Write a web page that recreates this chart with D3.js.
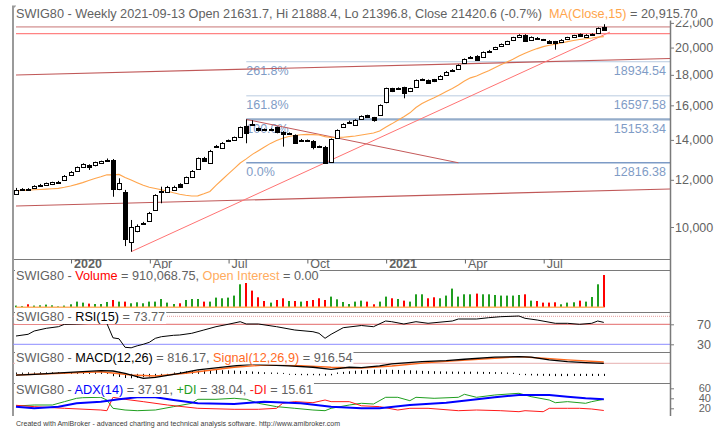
<!DOCTYPE html>
<html>
<head>
<meta charset="utf-8">
<script src="https://cdn.jsdelivr.net/npm/d3@7"></script>
<style>
  body { margin: 0; background: #fff; }
  svg { display: block; }
  text { font-family: "Liberation Sans", Arial, sans-serif; }
  .title { font-size: 12.7px; white-space: pre; }
</style>
</head>
<body>
<div id="wrapper"></div>
<script>

// 1. Access data

const firstWeek = "2019-11-04"
const lastWeek = "2021-09-13"

const opens = [11360, 11550, 11580, 11610, 11760, 11750, 11790, 11890, 11990, 12240,
  12400, 12620, 12710, 12670, 12790, 12920, 12930, 11570, 11430, 9450,
  9860, 10120, 10235, 10680, 11440, 11480, 11570, 11810, 11840, 12145,
  12500, 13075, 12820, 13620, 13605, 13940, 14000, 14140, 14770, 14900,
  14640, 14600, 14580, 14700, 14450, 14340, 14270, 13980, 13990, 13960,
  13650, 13640, 12870, 14090, 14700, 15000, 14830, 15180, 15400, 15280,
  15415, 16165, 17090, 17070, 17155, 16870, 17195, 17680, 17645, 17690,
  17715, 17990, 18320, 18410, 18825, 19290, 19385, 19290, 19740, 19840,
  20100, 20280, 20540, 20890, 21020, 20570, 20780, 20640, 20540, 20490,
  20440, 20620, 20815, 21080, 20895, 21060, 21160, 21631.7]

const highs = [11630, 11620, 11620, 11750, 11810, 11870, 11910, 11950, 12220, 12410,
  12630, 12790, 12740, 12870, 12920, 13030, 13005, 12070, 11540, 10275,
  10100, 10200, 10600, 11350, 11685, 11720, 11730, 11840, 12150, 12460,
  13080, 13110, 13470, 13730, 13880, 14020, 14180, 14740, 15153.34, 15100,
  14680, 14630, 14640, 14740, 14480, 14410, 14300, 14050, 14020, 13990,
  13700, 13680, 14080, 14580, 14930, 15080, 15160, 15390, 15430, 15300,
  16060, 17130, 17120, 17150, 17190, 17120, 17680, 17750, 17680, 17720,
  17980, 18260, 18400, 18740, 19180, 19360, 19420, 19700, 19820, 20060,
  20320, 20530, 20850, 21060, 21060, 20880, 20830, 20680, 20580, 20520,
  20660, 20850, 21010, 21120, 21060, 21130, 21620, 21888.4]

const lows = [11320, 11500, 11520, 11580, 11720, 11720, 11760, 11860, 11960, 12210,
  12380, 12590, 12465, 12640, 12760, 12890, 11240, 11530, 9290, 9090,
  9800, 10080, 10200, 10650, 10960, 11450, 11540, 11660, 11810, 12120,
  12470, 12870, 12790, 13570, 13580, 13900, 13970, 14110, 13820, 14820,
  14470, 14540, 14530, 14360, 13640, 14300, 13780, 13940, 13920, 13500,
  13580, 12816.38, 12840, 14060, 14670, 14950, 14800, 15150, 15250, 15020,
  15390, 16130, 16840, 17030, 16440, 16840, 17170, 17640, 17390, 17500,
  17690, 17960, 18290, 18380, 18800, 19250, 19070, 19260, 19700, 19810,
  20070, 20250, 20510, 20860, 20500, 20540, 20700, 20580, 20320, 19840,
  20400, 20590, 20780, 20860, 20860, 21020, 21130, 21396.8]

const closes = [11540, 11570, 11560, 11720, 11780, 11840, 11885, 11915, 12190, 12380,
  12595, 12755, 12625, 12840, 12890, 12960, 11560, 11840, 9550, 10010,
  10040, 10150, 10570, 11315, 11470, 11690, 11690, 11690, 12115, 12430,
  13040, 12905, 13430, 13650, 13850, 13970, 14140, 14700, 14400, 14870,
  14510, 14580, 14590, 14400, 14365, 14360, 13820, 14000, 13960, 13640,
  13630, 12840, 14040, 14550, 14890, 15030, 15120, 15355, 15280, 15120,
  16020, 17090, 16870, 17100, 16760, 17090, 17645, 17700, 17425, 17535,
  17945, 18220, 18350, 18700, 19140, 19310, 19105, 19660, 19770, 20025,
  20280, 20490, 20815, 21020, 20540, 20840, 20760, 20620, 20360, 20360,
  20620, 20815, 20975, 20895, 21020, 21090, 21571, 21420.6]

const volumes = [48000, 37000, 85000, 48000, 56000, 76000, 56000, 28000, 48000, 85000,
  160000, 132000, 104000, 93000, 93000, 150000, 206000, 160000, 160000, 113000,
  141000, 113000, 160000, 160000, 234000, 132000, 93000, 113000, 206000, 234000,
  234000, 160000, 160000, 273000, 254000, 273000, 330000, 648000, 685000, 470000,
  282000, 178000, 132000, 206000, 254000, 178000, 178000, 160000, 178000, 206000,
  254000, 206000, 301000, 225000, 150000, 93000, 160000, 188000, 160000, 85000,
  160000, 301000, 254000, 234000, 188000, 160000, 366000, 366000, 254000, 282000,
  254000, 330000, 527000, 301000, 366000, 366000, 386000, 366000, 366000, 347000,
  330000, 330000, 330000, 347000, 366000, 188000, 178000, 132000, 132000, 141000,
  85000, 132000, 141000, 188000, 160000, 290000, 648000, 910068.75]

// MA(Close,15): the first 14 weeks depend on history left of the chart, so they are read
const maPeriod = 15
const maLead = [11505, 11515, 11530, 11545, 11560, 11575, 11595, 11610, 11660, 11720,
  11790, 11870, 11970, 12060]

const rsiWeeks = [0, 2, 3, 5, 7, 8, 10, 12, 15, 16, 17, 18, 19, 20, 21, 22, 23, 24,
  26, 27, 29, 31, 33, 35, 37, 38, 40, 43, 46, 49, 50, 51, 52, 54, 57, 59,
  61, 62, 64, 66, 68, 72, 73, 76, 78, 80, 83, 84, 86, 89, 91, 93, 95, 96, 97]
const rsiValues = [46.6, 50, 56.6, 62, 65.2, 70, 70.6, 71.6, 71.6, 43, 41, 24, 23, 27, 30, 34, 42, 45.2,
  48, 48.6, 52, 58.6, 65.2, 70, 75.2, 70.6, 70.6, 65.2, 58.6, 55.2, 52, 42, 50, 63.2, 67.6, 65.2,
  76.6, 75.2, 70.6, 75.2, 72, 76.6, 80.6, 80.6, 83.2, 85.2, 86.6, 82, 78.6, 72, 72, 70, 72, 76.6, 73.77]

const macdWeeks = [0, 3, 8, 14, 16, 18, 21, 23, 27, 30, 36, 39, 41, 45, 49, 52, 55, 57, 60, 62,
  67, 71, 74, 79, 83, 85, 88, 91, 94, 97]
const macdValues = [-93, -34, 90, 245, 222, 43, -345, -267, 43, 300, 610, 743, 688, 610, 510, 354, 510, 480, 610, 766,
  944, 1022, 1130, 1286, 1333, 1286, 1077, 944, 867, 816.17]

const signalWeeks = [0, 14, 19, 23, 28, 36, 41, 47, 52, 57, 62, 68, 73, 79, 83, 87, 91, 97]
const signalValues = [-93, 167, -88, -166, 43, 510, 688, 633, 510, 455, 610, 866, 1022, 1209, 1333, 1209, 1077, 916.54]

const histValues = [40, 30, 50, 40, 60, 50, 60, 70, 60, 80, 70, 60, 80, 70, 60, 50,
  -120, -180, -260, -280, -250, -200, -150, -120, -90, -50,
  40, 90, 130, 160, 190, 210, 230, 240, 220, 210, 190, 170, 160, 120, 90,
  60, 40, 30, 10, -10, -30, -40, -50, -40, -60, -80, -50,
  40, 90, 140, 180, 210, 240, 260, 270, 260, 250, 240, 220, 210, 190, 170, 150, 140, 130,
  120, 110, 110, 100, 110, 100, 90, 80, 70, 60, 40, 20,
  -20, -40, -60, -80, -90, -100, -110, -110, -110, -100, -100, -100, -100, -100, -100.37]

const adxWeeks = [0, 3, 7, 10, 14, 17, 20, 23, 26, 30, 36, 41, 47, 52, 57, 60, 65, 71, 75, 79, 83, 88, 91, 94, 97]
const adxValues = [23.3, 20, 23.3, 30, 33.3, 38, 42, 42, 36.6, 30, 28.6, 33.3, 30, 23.3, 20, 20, 26.6, 31.2,
  36.6, 42, 46.6, 46.6, 43.3, 40, 37.91]

const pdiWeeks = [0, 3, 6, 8, 10, 11, 14, 15, 16, 18, 20, 23, 26, 29, 30, 33, 36, 38, 40, 43, 46, 49,
  51, 52, 55, 57, 59, 61, 63, 65, 66, 69, 73, 74, 76, 79, 83, 85, 88, 89, 91, 94, 95, 97]
const pdiValues = [24.6, 26.6, 26.6, 33.3, 40, 41.2, 42, 36.6, 20, 16.6, 15.2, 16.6, 23.3, 30, 38, 38, 40, 38,
  30, 23.3, 20, 16.6, 15.2, 20, 26.6, 30, 28.6, 42, 42, 35.2, 42, 40, 42, 48, 42, 46.6, 50, 43.3,
  36.6, 31.2, 33.3, 30, 33.3, 38.04]

const mdiWeeks = [0, 3, 8, 14, 15, 16, 18, 21, 25, 30, 36, 40, 43, 44, 46, 49, 51, 52, 55, 57,
  60, 63, 65, 68, 73, 76, 80, 83, 84, 87, 88, 91, 93, 95, 97]
const mdiValues = [26, 23.3, 20, 16.6, 15.2, 42, 38, 33.3, 26.6, 20, 18, 18, 20, 30, 33.3, 31.2, 36.6, 33.3, 33.3, 25,
  23.3, 16.6, 20, 20, 15.2, 16.6, 15.2, 13.2, 15.2, 13.2, 20, 20, 20, 18.6, 15.61]

const priceTicks = [22000, 20000, 18000, 16000, 14000, 12000, 10000]
const rsiTicks = [70, 30]
const adxTicks = [60, 40, 20]
const dateTicks = ["2020-01-06", "2020-04-06", "2020-07-06", "2020-10-05", "2021-01-04", "2021-04-05", "2021-07-05"]
const dateTickLabels = ["2020", "Apr", "Jul", "Oct", "2021", "Apr", "Jul"]

// Fibonacci retracement drawn from the July 2020 high
const fibStart = "2020-07-27"
const fibLow = 12816.38
const fibHigh = 15153.34
const fibRatios = [2.618, 1.618, 1, 0]
const fibLabels = ["261.8%", "161.8%", "100.0%", "0.0%"]

// hand drawn studies: horizontal levels and trend lines (date, price anchors)
const levelLines = [21660, 21100]
const trendLines = [
  { from: ["2019-11-04", 17990], to: ["2021-09-13", 19050], extendTo: "edge" },
  { from: ["2019-11-04", 10845], to: ["2021-09-13", 11505], extendTo: "edge" },
  { from: ["2020-03-16", 9090], to: ["2020-10-26", 12816.38], extendTo: "2021-09-20" },
  { from: ["2020-07-27", 15153.34], to: ["2021-03-29", 12816.38], extendTo: null },
]

const rsiLevels = [86, 70, 30]
const macdLevel = 816.17

async function drawChart() {

  const dateParser = d3.timeParse("%Y-%m-%d")
  const dates = d3.timeMonday.range(dateParser(firstWeek), d3.timeDay.offset(dateParser(lastWeek), 1))

  // 2. Create chart dimensions

  const dimensions = {
    width: 722,
    height: 431,
    left: 13,
    axisX: 670,
    firstBarX: 16,
    lastBarX: 603.8,
  }
  const panels = {
    price: { top: 6, bottom: 259 },
    volume: { top: 270, bottom: 311.7 },
    rsi: { top: 311.7, bottom: 351.7 },
    macd: { top: 351.7, bottom: 383.3 },
    adx: { top: 383.3, bottom: 416 },
  }
  const textGray = "#626262"
  const frameGray = "#7a7a7a"

  // 3. Draw canvas

  const wrapper = d3.select("#wrapper")
    .append("svg")
      .attr("width", dimensions.width)
      .attr("height", dimensions.height)

  const defs = wrapper.append("defs")
  Object.entries(panels).forEach(([name, p]) => {
    defs.append("clipPath")
        .attr("id", `clip-${name}`)
      .append("rect")
        .attr("x", dimensions.left)
        .attr("y", p.top)
        .attr("width", dimensions.axisX - dimensions.left)
        .attr("height", p.bottom - p.top)
  })
  const layer = name => wrapper.append("g").attr("clip-path", `url(#clip-${name})`)

  // 4. Create scales

  const xScale = d3.scaleTime()
    .domain([dates[0], dates[dates.length - 1]])
    .range([dimensions.firstBarX, dimensions.lastBarX])

  const yScale = d3.scaleLog()
    .domain([10000, 22000])
    .range([227, 22.9])

  const volumeScale = d3.scaleLinear()
    .domain([0, d3.max(volumes)])
    .range([307.3, 275])

  const rsiScale = d3.scaleLinear()
    .domain([30, 70])
    .range([344.3, 324.3])

  const macdScale = d3.scaleLinear()
    .domain([0, 816.17])
    .range([373.86, 363.3])

  const adxScale = d3.scaleLinear()
    .domain([20, 60])
    .range([408.3, 388.3])

  const barX = i => Math.round(xScale(dates[i])) + 0.5
  const dateX = s => xScale(dateParser(s))

  // frame
  const frame = wrapper.append("g")
  ;[panels.price.bottom, panels.volume.top, panels.rsi.top, panels.macd.top, panels.adx.top].forEach(y => {
    frame.append("line")
        .attr("x1", dimensions.left).attr("x2", dimensions.axisX)
        .attr("y1", Math.round(y) + 0.5).attr("y2", Math.round(y) + 0.5)
        .attr("stroke", frameGray)
  })
  frame.append("path")
      .attr("d", `M${dimensions.left + 3},6.5H${dimensions.left}V${panels.adx.bottom}`)
      .attr("fill", "none")
      .attr("stroke", "#9a9a9a")
      .attr("stroke-width", 2)

  // 5. Draw data

  // price panel
  const price = layer("price")

  const fibRange = fibHigh - fibLow
  const fibX = dateX(fibStart)
  const fibColors = ["#b9cbe0", "#b9cbe0", "#94acca", "#7d9bc6"]
  const fibWidths = [1, 1, 2.2, 1.4]
  fibRatios.forEach((r, k) => {
    const v = fibLow + r * fibRange
    const y = yScale(v)
    price.append("line")
        .attr("x1", fibX).attr("x2", dimensions.axisX)
        .attr("y1", y).attr("y2", y)
        .attr("stroke", fibColors[k])
        .attr("stroke-width", fibWidths[k])
    price.append("text")
        .attr("x", fibX).attr("y", y + 13.6)
        .attr("fill", "#7f9cc6")
        .style("font-size", "12.5px")
        .text(fibLabels[k])
    price.append("text")
        .attr("x", 666).attr("y", y + 13.6)
        .attr("text-anchor", "end")
        .attr("fill", "#7f9cc6")
        .style("font-size", "12.5px")
        .text(v.toFixed(2))
  })

  const levelColors = ["#c77474", "#ff6464"]
  levelLines.forEach((v, k) => {
    price.append("line")
        .attr("x1", dimensions.left + 3).attr("x2", dimensions.axisX)
        .attr("y1", yScale(v)).attr("y2", yScale(v))
        .attr("stroke", levelColors[k])
  })

  const trendColors = ["#c05858", "#c05858", "#ff7373", "#c45a5a"]
  const trendWidths = [1.2, 1.2, 1, 1]
  trendLines.forEach((t, k) => {
    const x1 = dateX(t.from[0]), y1 = yScale(t.from[1])
    let x2 = dateX(t.to[0]), y2 = yScale(t.to[1])
    if (t.extendTo) {
      const xe = t.extendTo === "edge" ? dimensions.axisX : dateX(t.extendTo)
      y2 = y1 + (y2 - y1) * (xe - x1) / (x2 - x1)
      x2 = xe
    }
    price.append("line")
        .attr("x1", x1).attr("y1", y1)
        .attr("x2", x2).attr("y2", y2)
        .attr("stroke", trendColors[k])
        .attr("stroke-width", trendWidths[k])
  })

  const maValues = closes.map((c, i) => i < maLead.length
    ? maLead[i]
    : d3.mean(closes.slice(i - maPeriod + 1, i + 1)))

  const maLine = d3.line()
    .x((d, i) => xScale(dates[i]))
    .y(d => yScale(d))

  price.append("path")
      .attr("d", maLine(maValues))
      .attr("fill", "none")
      .attr("stroke", "#ffa54c")
      .attr("stroke-width", 1.1)

  const candles = price.selectAll(".candle")
    .data(d3.range(dates.length))
    .join("g")
      .attr("class", "candle")

  candles.append("line")
      .attr("x1", barX).attr("x2", barX)
      .attr("y1", i => yScale(highs[i]))
      .attr("y2", i => yScale(lows[i]))
      .attr("stroke", "#000")

  candles.append("rect")
      .attr("x", i => barX(i) - 2)
      .attr("width", 4)
      .attr("y", i => Math.round(yScale(Math.max(opens[i], closes[i]))) + 0.5)
      .attr("height", i => Math.max(1, Math.round(Math.abs(yScale(opens[i]) - yScale(closes[i])))))
      .attr("fill", i => closes[i] >= opens[i] ? "#fff" : "#000")
      .attr("stroke", "#000")

  // volume panel
  const vol = layer("volume")
  vol.selectAll(".vol")
    .data(volumes)
    .join("rect")
      .attr("class", "vol")
      .attr("x", (d, i) => barX(i) - 1.5)
      .attr("width", 2)
      .attr("y", d => volumeScale(d))
      .attr("height", d => volumeScale(0) - volumeScale(d))
      .attr("fill", (d, i) => closes[i] > opens[i] ? "#1f9e1f" : "#ff0000")
  vol.append("line")
      .attr("x1", xScale(dates[0])).attr("x2", xScale(dates[dates.length - 1]))
      .attr("y1", volumeScale(0)).attr("y2", volumeScale(0))
      .attr("stroke", "#ffb366")
      .attr("stroke-width", 1.5)

  const sparseLine = (weeks, values, yS) => d3.line()
    .x((d, k) => xScale(dates[weeks[k]]))
    .y(d => yS(d))(values)

  // rsi panel
  const rsi = layer("rsi")
  const rsiLevelColors = ["#e79a9a", "#e36a6a", "#8d8dff"]
  rsiLevels.forEach((v, k) => {
    rsi.append("line")
        .attr("x1", dimensions.left).attr("x2", dimensions.axisX)
        .attr("y1", rsiScale(v)).attr("y2", rsiScale(v))
        .attr("stroke", rsiLevelColors[k])
        .attr("stroke-dasharray", k === 0 ? "1,1" : null)
  })
  rsi.append("path")
      .attr("d", sparseLine(rsiWeeks, rsiValues, rsiScale))
      .attr("fill", "none")
      .attr("stroke", "#000")

  // macd panel
  const macd = layer("macd")
  macd.append("line")
      .attr("x1", dimensions.left).attr("x2", dimensions.axisX)
      .attr("y1", macdScale(macdLevel)).attr("y2", macdScale(macdLevel))
      .attr("stroke", "#e6b0b0")
  macd.selectAll(".hist")
    .data(histValues)
    .join("line")
      .attr("class", "hist")
      .attr("x1", (d, i) => barX(i)).attr("x2", (d, i) => barX(i))
      .attr("y1", macdScale(0))
      .attr("y2", d => macdScale(d) + (d >= 0 ? -0.8 : 0.8))
      .attr("stroke", "#000")
  macd.append("path")
      .attr("d", sparseLine(signalWeeks, signalValues, macdScale))
      .attr("fill", "none")
      .attr("stroke", "#ff6a1f")
      .attr("stroke-width", 1.4)
  macd.append("path")
      .attr("d", sparseLine(macdWeeks, macdValues, macdScale))
      .attr("fill", "none")
      .attr("stroke", "#000")
      .attr("stroke-width", 1.3)

  // adx panel
  const adx = layer("adx")
  adx.append("path")
      .attr("d", sparseLine(pdiWeeks, pdiValues, adxScale))
      .attr("fill", "none")
      .attr("stroke", "#1f9e1f")
  adx.append("path")
      .attr("d", sparseLine(mdiWeeks, mdiValues, adxScale))
      .attr("fill", "none")
      .attr("stroke", "#ff1a1a")
  adx.append("path")
      .attr("d", sparseLine(adxWeeks, adxValues, adxScale))
      .attr("fill", "none")
      .attr("stroke", "#0000ff")
      .attr("stroke-width", 2)

  // 6. Draw peripherals

  wrapper.append("line")
      .attr("x1", dimensions.axisX + 0.5).attr("x2", dimensions.axisX + 0.5)
      .attr("y1", 18).attr("y2", panels.adx.bottom)
      .attr("stroke", frameGray)
      .attr("stroke-width", 1.5)

  const styleAxis = (axis, anchorEnd, fontSize) => {
    axis.attr("font-family", null).attr("font-size", null)
    axis.select(".domain").remove()
    axis.selectAll("line").attr("stroke", frameGray)
    axis.selectAll("text")
        .attr("fill", textGray)
        .style("font-size", fontSize)
    if (anchorEnd) axis.selectAll("text").attr("text-anchor", "end").attr("x", 41)
  }

  const yAxisGenerator = d3.axisRight(yScale)
    .tickValues(priceTicks)
    .tickSize(4)
    .tickPadding(1)
    .tickFormat(d3.format(","))
  const yAxis = wrapper.append("g")
      .attr("transform", `translate(${dimensions.axisX}, 0)`)
    .call(yAxisGenerator)
  styleAxis(yAxis, false, "12.5px")

  const rsiAxis = wrapper.append("g")
      .attr("transform", `translate(${dimensions.axisX}, 0)`)
    .call(d3.axisRight(rsiScale).tickValues(rsiTicks).tickSize(4))
  styleAxis(rsiAxis, true, "12.5px")

  const adxAxis = wrapper.append("g")
      .attr("transform", `translate(${dimensions.axisX}, 0)`)
    .call(d3.axisRight(adxScale).tickValues(adxTicks).tickSize(4))
  styleAxis(adxAxis, true, "11px")

  const xAxisGenerator = d3.axisBottom(xScale)
    .tickValues(dateTicks.map(dateParser))
    .tickSize(4)
    .tickFormat((d, k) => dateTickLabels[k])
  const xAxis = wrapper.append("g")
      .attr("transform", `translate(0.5, ${panels.price.bottom + 0.5})`)
    .call(xAxisGenerator)
  xAxis.attr("font-family", null).attr("font-size", null)
  xAxis.select(".domain").remove()
  xAxis.selectAll("line").attr("stroke", textGray)
  xAxis.selectAll("text")
      .attr("x", 2.5)
      .attr("y", 8)
      .attr("dy", null)
      .attr("text-anchor", "start")
      .attr("fill", textGray)
      .style("font-size", "12.5px")
      .style("font-weight", (d, k) => /^\d+$/.test(dateTickLabels[k]) ? "bold" : null)

  const addTitle = (y, parts) => {
    const g = wrapper.append("g")
    const bg = g.append("rect").attr("fill", "#fff")
    const text = g.append("text")
        .attr("class", "title")
        .attr("x", 16)
        .attr("y", y)
    text.selectAll("tspan")
      .data(parts)
      .join("tspan")
        .attr("fill", d => d[1])
        .text(d => d[0])
    const box = text.node().getBBox()
    bg.attr("x", 15).attr("y", box.y)
      .attr("width", box.x + box.width - 14)
      .attr("height", box.height)
  }

  addTitle(17.5, [
    ["SWIG80 - Weekly 2021-09-13 Open 21631.7, Hi 21888.4, Lo 21396.8, Close 21420.6 (-0.7%)  ", textGray],
    ["MA(Close,15)", "#ffa54c"],
    [" = 20,915.70", textGray],
  ])
  addTitle(280, [
    ["SWIG80 - ", textGray],
    ["Volume", "#ff0000"],
    [" = 910,068.75, ", textGray],
    ["Open Interest", "#ffac5e"],
    [" = 0.00", textGray],
  ])
  addTitle(321, [
    ["SWIG80 - ", textGray],
    ["RSI(15)", "#000"],
    [" = 73.77", textGray],
  ])
  addTitle(361.5, [
    ["SWIG80 - ", textGray],
    ["MACD(12,26)", "#000"],
    [" = 816.17, ", textGray],
    ["Signal(12,26,9)", "#ff6a1f"],
    [" = 916.54", textGray],
  ])
  addTitle(394, [
    ["SWIG80 - ", textGray],
    ["ADX(14)", "#0000ff"],
    [" = 37.91, ", textGray],
    ["+DI", "#1f9e1f"],
    [" = 38.04, ", textGray],
    ["-DI", "#ff1a1a"],
    [" = 15.61", textGray],
  ])

  wrapper.append("text")
      .attr("x", 16)
      .attr("y", 426)
      .attr("fill", "#3c3c3c")
      .attr("textLength", 324)
      .style("font-size", "7px")
      .text("Created with AmiBroker - advanced charting and technical analysis software. http://www.amibroker.com")
}
drawChart()
</script>
</body>
</html>
